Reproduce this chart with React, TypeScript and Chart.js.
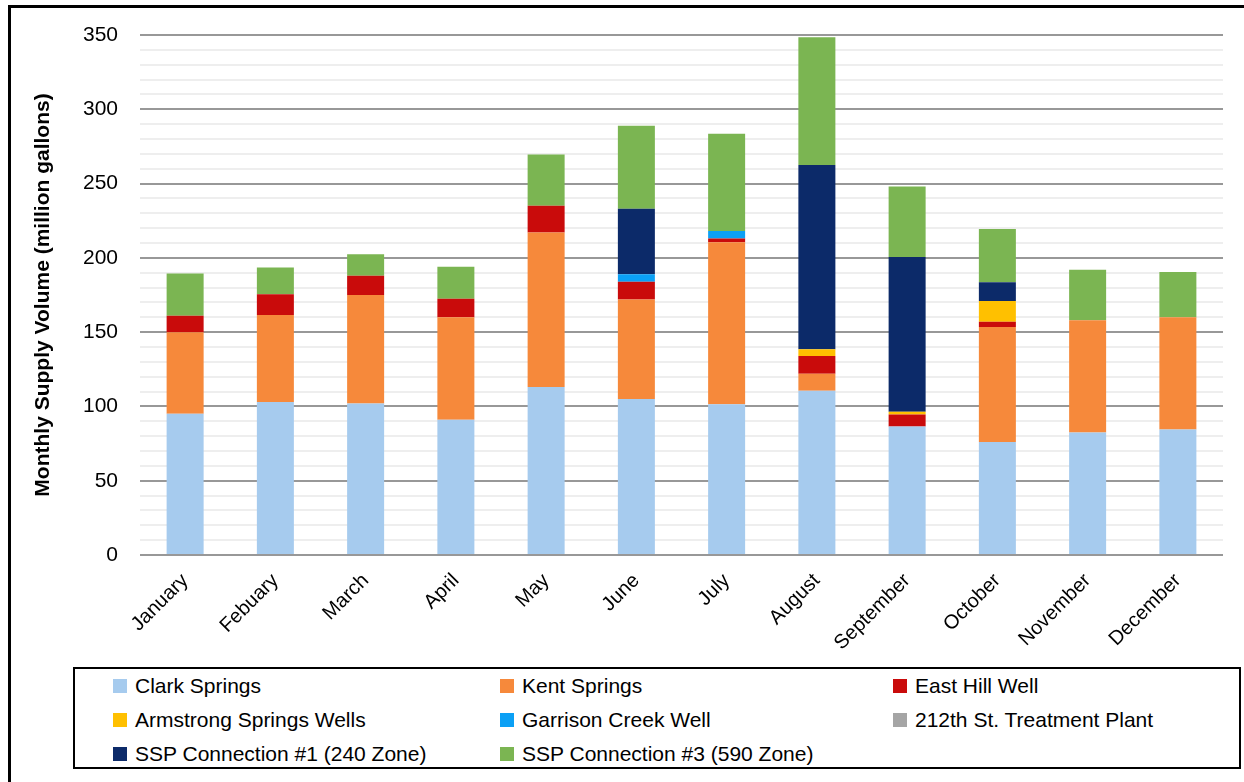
import React, { useEffect, useRef } from 'react';
import { Chart, registerables } from 'chart.js';

Chart.register(...registerables);

// Monthly supply volumes (million gallons) by source
const months = ['January', 'Febuary', 'March', 'April', 'May', 'June', 'July', 'August', 'September', 'October', 'November', 'December'];
const clarkSprings = [95, 103, 102, 91, 113, 105, 101.5, 110.5, 86.5, 76, 82.5, 84.5];
const kentSprings = [55, 58.5, 73, 69, 104, 67, 109, 11.5, 0, 77.5, 75.5, 75.5];
const eastHillWell = [11, 14, 13, 12.5, 18, 12, 2.5, 12, 8, 3.5, 0, 0];
const armstrongSpringsWells = [0, 0, 0, 0, 0, 0, 0, 4.5, 2, 14, 0, 0];
const garrisonCreekWell = [0, 0, 0, 0, 0, 5, 5, 0, 0, 0, 0, 0];
const treatmentPlant212th = [0, 0, 0, 0, 0, 0, 0, 0, 0, 0, 0, 0];
const sspConnection1 = [0, 0, 0, 0, 0, 44, 0, 124, 104, 12.5, 0, 0];
const sspConnection3 = [28.5, 18, 14.5, 21.5, 34.5, 56, 65.5, 86, 47.5, 36, 34, 30.5];

const yMin = 0;
const yMax = 350;
const yMinorStep = 10;
const yMajorStep = 50;

const series = [
  { label: 'Clark Springs', data: clarkSprings, color: '#A6CBEE' },
  { label: 'Kent Springs', data: kentSprings, color: '#F6893B' },
  { label: 'East Hill Well', data: eastHillWell, color: '#C90B0B' },
  { label: 'Armstrong Springs Wells', data: armstrongSpringsWells, color: '#FFC000' },
  { label: 'Garrison Creek Well', data: garrisonCreekWell, color: '#0BA0F5' },
  { label: '212th St. Treatment Plant', data: treatmentPlant212th, color: '#A5A5A5' },
  { label: 'SSP Connection #1 (240 Zone)', data: sspConnection1, color: '#0C2A69' },
  { label: 'SSP Connection #3 (590 Zone)', data: sspConnection3, color: '#7BB552' },
];

const FONT = "'Liberation Sans', Arial, sans-serif";

export default function App() {
  const canvasRef = useRef<HTMLCanvasElement>(null);

  useEffect(() => {
    const chart = new Chart(canvasRef.current!, {
      type: 'bar',
      data: {
        labels: months,
        datasets: series.map((s) => ({
          label: s.label,
          data: s.data,
          backgroundColor: s.color,
          borderWidth: 0,
          barPercentage: 0.41,
          categoryPercentage: 1,
          stack: 'supply',
        })),
      },
      options: {
        responsive: false,
        animation: false,
        layout: { padding: { left: 27, right: 21, top: 35, bottom: 0 } },
        plugins: {
          legend: { display: false },
          tooltip: { enabled: false },
        },
        scales: {
          x: {
            stacked: true,
            grid: { display: false },
            border: { display: false },
            ticks: {
              color: '#000',
              font: { family: FONT, size: 20 },
              minRotation: 45,
              maxRotation: 45,
              padding: 6,
              autoSkip: false,
            },
            afterFit: (scale: any) => {
              scale.height = 105;
            },
          },
          y: {
            stacked: true,
            min: yMin,
            max: yMax,
            border: { display: false },
            grid: {
              color: (ctx: any) => (ctx.tick && ctx.tick.value % yMajorStep === 0 ? '#989898' : '#EEEEEE'),
              lineWidth: 2,
              drawTicks: false,
            },
            ticks: {
              stepSize: yMinorStep,
              autoSkip: false,
              padding: 22,
              color: '#000',
              font: { family: FONT, size: 21 },
              callback: (v: any) => (Number(v) % yMajorStep === 0 ? String(v) : ''),
            },
            title: {
              display: true,
              text: 'Monthly Supply Volume (million gallons)',
              color: '#000',
              font: { family: FONT, size: 21, weight: 'bold' },
              padding: { top: 4, bottom: 4 },
            },
            afterFit: (scale: any) => {
              scale.width = 113;
            },
          },
        },
      },
    });
    return () => chart.destroy();
  }, []);

  return (
    <div
      style={{
        position: 'fixed',
        left: 0,
        top: 0,
        width: 1244,
        height: 782,
        background: '#fff',
        overflow: 'hidden',
        fontFamily: FONT,
      }}
    >
      {/* frame edges */}
      <div style={{ position: 'absolute', left: 8, top: 5, width: 1236, height: 3, background: '#000' }} />
      <div style={{ position: 'absolute', left: 8, top: 5, width: 3, height: 777, background: '#000' }} />

      <canvas ref={canvasRef} width={1244} height={660} style={{ position: 'absolute', left: 0, top: 0 }} />

      {/* legend */}
      <div
        style={{
          position: 'absolute',
          left: 73,
          top: 667,
          width: 1168,
          height: 102,
          border: '2px solid #000',
          boxSizing: 'border-box',
          display: 'grid',
          gridTemplateColumns: '387px 393px 1fr',
          gridAutoRows: '34px',
          paddingLeft: 38,
        }}
      >
        {series.map((s) => (
          <div key={s.label} style={{ display: 'flex', alignItems: 'center', fontSize: 21, color: '#000', whiteSpace: 'nowrap' }}>
            <span style={{ display: 'inline-block', width: 14, height: 14, background: s.color, marginRight: 8 }} />
            <span>{s.label}</span>
          </div>
        ))}
      </div>
    </div>
  );
}
